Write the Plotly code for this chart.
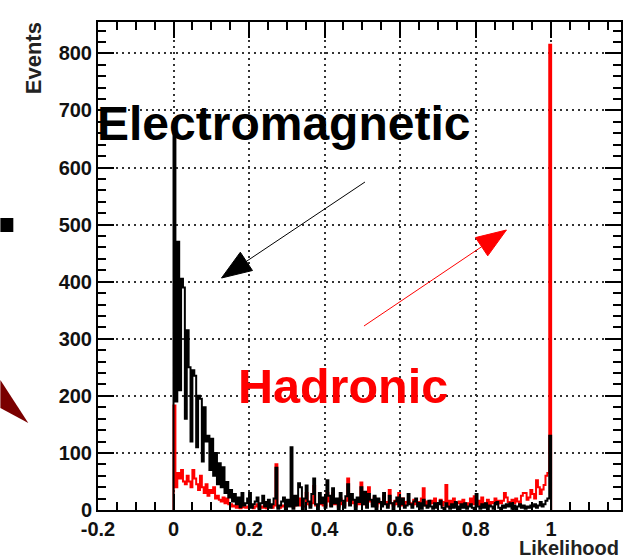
import plotly.graph_objects as go

# ---- histogram binning: 200 bins of width 0.005 over [0, 1] ----
BIN_WIDTH = 0.005
N_BINS = 200
bin_low = [round(i * BIN_WIDTH, 4) for i in range(N_BINS)]

# Events per likelihood bin, electromagnetic showers (black)
em_events = [
    660, 190, 470, 210, 405, 390, 160, 315, 250, 120, 245, 235, 110, 200, 195, 85, 180, 120, 130, 70,
    125, 60, 100, 45, 82, 40, 75, 30, 49, 22, 35, 15, 28, 10, 22, 5, 30, 8, 12, 20,
    30, 4, 10, 15, 22, 0, 12, 25, 6, 14, 18, 4, 10, 20, 74, 2, 8, 15, 22, 0,
    18, 6, 110, 2, 25, 8, 47, 40, 0, 20, 43, 15, 4, 28, 55, 10, 0, 30, 12, 22,
    4, 52, 25, 6, 38, 12, 20, 0, 30, 16, 4, 24, 45, 8, 28, 18, 0, 22, 14, 40,
    10, 32, 4, 28, 18, 6, 25, 0, 20, 14, 6, 30, 10, 4, 25, 12, 0, 15, 22, 6,
    10, 20, 4, 8, 28, 10, 4, 15, 20, 6, 12, 2, 18, 8, 4, 16, 6, 2, 12, 4,
    10, 16, 4, 0, 12, 6, 2, 10, 4, 14, 6, 0, 10, 4, 12, 2, 6, 10, 4, 0,
    28, 6, 2, 10, 4, 12, 0, 8, 6, 2, 10, 14, 4, 0, 8, 4, 10, 6, 12, 2,
    8, 0, 6, 10, 4, 8, 2, 6, 4, 8, 6, 10, 4, 8, 14, 6, 10, 16, 20, 130,
]

# Events per likelihood bin, hadronic showers (red)
had_events = [
    183, 40, 65, 55, 70, 50, 45, 60, 50, 40, 70, 55, 45, 35, 60, 40, 30, 45, 25, 35,
    30, 40, 20, 25, 18, 15, 22, 12, 20, 10, 10, 6, 8, 4, 8, 3, 12, 5, 4, 6,
    6, 8, 3, 6, 10, 4, 6, 4, 8, 3, 6, 8, 4, 8, 80, 5, 4, 8, 6, 4,
    8, 10, 12, 6, 8, 10, 20, 8, 6, 6, 30, 10, 8, 12, 42, 8, 6, 10, 16, 8,
    8, 30, 15, 8, 30, 10, 12, 6, 20, 10, 8, 16, 55, 10, 18, 12, 6, 15, 10, 48,
    10, 20, 8, 40, 15, 10, 22, 6, 18, 12, 10, 25, 14, 8, 35, 12, 8, 16, 10, 30,
    8, 20, 10, 14, 15, 12, 8, 18, 10, 14, 6, 20, 38, 8, 15, 10, 16, 12, 20, 8,
    12, 18, 8, 14, 44, 6, 16, 10, 20, 8, 12, 15, 6, 18, 10, 12, 8, 20, 10, 24,
    10, 16, 8, 22, 12, 10, 18, 8, 14, 12, 20, 10, 16, 12, 16, 30, 22, 14, 10, 18,
    12, 20, 15, 10, 25, 30, 30, 18, 22, 35, 28, 20, 52, 40, 28, 36, 44, 60, 65, 815,
]

# Axis ticks
x_ticks = [-0.2, 0.0, 0.2, 0.4, 0.6, 0.8, 1.0]
x_tick_text = ["-0.2", "0", "0.2", "0.4", "0.6", "0.8", "1"]
y_ticks = [0, 100, 200, 300, 400, 500, 600, 700, 800]
y_tick_text = ["0", "100", "200", "300", "400", "500", "600", "700", "800"]

X_RANGE = [-0.2, 1.185]
Y_RANGE = [0, 855]

# Page geometry (pixels)
W, H = 625, 558
L, R, T, B = 98, 2, 22, 48
PW, PH = W - L - R, H - T - B

FONT = "Liberation Sans, Arial, sans-serif"


def outline(counts):
    """Step outline of a histogram, closed down to zero at both ends."""
    edges = bin_low + [round(bin_low[-1] + BIN_WIDTH, 4)]
    xs = [edges[0]] + edges[:-1] + [edges[-1], edges[-1]]
    ys = [0] + list(counts) + [counts[-1], 0]
    return xs, ys


def paper(px, py):
    """Pixel position on the page -> paper coordinates."""
    return (px - L) / PW, (H - B - py) / PH


fig = go.Figure()

hx, hy = outline(had_events)
fig.add_trace(go.Scatter(x=hx, y=hy, mode="lines", line=dict(color="#ff0000", width=2, shape="hv"),
                         hoverinfo="skip", showlegend=False))
ex, ey = outline(em_events)
fig.add_trace(go.Scatter(x=ex, y=ey, mode="lines", line=dict(color="#000000", width=2, shape="hv"),
                         hoverinfo="skip", showlegend=False))

tick_font = dict(family=FONT, size=20, color="#111111", weight="bold")
grid_dash = "2px,4px"

fig.update_xaxes(
    range=X_RANGE, tickmode="array", tickvals=x_ticks, ticktext=x_tick_text,
    ticks="inside", ticklen=16, tickwidth=2, tickcolor="black",
    showline=True, linecolor="black", linewidth=2, mirror="ticks",
    showgrid=True, gridcolor="#333333", gridwidth=2, griddash=grid_dash,
    zeroline=False, tickfont=tick_font,
    minor=dict(tickmode="linear", tick0=0, dtick=0.05, ticks="inside", ticklen=8,
               tickwidth=2, tickcolor="black", showgrid=False),
)
fig.update_yaxes(
    range=Y_RANGE, tickmode="array", tickvals=y_ticks, ticktext=y_tick_text,
    ticks="inside", ticklen=16, tickwidth=2, tickcolor="black",
    showline=True, linecolor="black", linewidth=2, mirror="ticks",
    showgrid=True, gridcolor="#333333", gridwidth=2, griddash=grid_dash,
    zeroline=False, tickfont=tick_font,
    minor=dict(tickmode="linear", tick0=0, dtick=20, ticks="inside", ticklen=8,
               tickwidth=2, tickcolor="black", showgrid=False),
)

annotations = []

# Axis titles
ax_, ay_ = paper(33, 20)
annotations.append(dict(text="Events", xref="paper", yref="paper", x=ax_, y=ay_, textangle=-90,
                        xanchor="center", yanchor="top", showarrow=False,
                        font=dict(family=FONT, size=22, color="#222222", weight="bold")))
lx, ly = paper(623, 548)
annotations.append(dict(text="Likelihood", xref="paper", yref="paper", x=lx, y=ly,
                        xanchor="right", yanchor="middle", showarrow=False,
                        font=dict(family=FONT, size=20, color="#222222", weight="bold")))

# Labels for the two shower types
tx, ty = paper(95, 124)
annotations.append(dict(text="Electromagnetic", xref="paper", yref="paper", x=tx, y=ty,
                        xanchor="left", yanchor="middle", showarrow=False,
                        font=dict(family=FONT, size=48, color="#000000", weight="bold")))
tx, ty = paper(237, 386)
annotations.append(dict(text="Hadronic", xref="paper", yref="paper", x=tx, y=ty,
                        xanchor="left", yanchor="middle", showarrow=False,
                        font=dict(family=FONT, size=48.5, color="#ff0000", weight="bold")))

shapes = []


def arrow(tail, tip, color, head_len=30, head_half=11):
    (x0, y0), (x1, y1) = tail, tip
    dx, dy = x1 - x0, y1 - y0
    n = (dx * dx + dy * dy) ** 0.5
    ux, uy = dx / n, dy / n
    bx, by = x1 - head_len * ux, y1 - head_len * uy
    c1 = (bx - head_half * uy, by + head_half * ux)
    c2 = (bx + head_half * uy, by - head_half * ux)
    p0, pb = paper(x0, y0), paper(bx, by)
    shapes.append(dict(type="line", xref="paper", yref="paper", x0=p0[0], y0=p0[1], x1=pb[0], y1=pb[1],
                       line=dict(color=color, width=1)))
    pts = [paper(*tip), paper(*c1), paper(*c2)]
    path = "M {} {} L {} {} L {} {} Z".format(*[v for p in pts for v in p])
    shapes.append(dict(type="path", xref="paper", yref="paper", path=path,
                       fillcolor=color, line=dict(color=color, width=1)))


arrow((366, 182), (222, 278), "#000000")
arrow((365, 326), (508, 230), "#ff0000")

# Fragments of neighbouring slide graphics at the left edge
sq0, sq1 = paper(0, 218), paper(13, 232)
shapes.append(dict(type="rect", xref="paper", yref="paper", x0=sq0[0], y0=sq0[1], x1=sq1[0], y1=sq1[1],
                   fillcolor="#000000", line=dict(width=0)))
tri = [paper(0, 380), paper(28, 423), paper(0, 408)]
shapes.append(dict(type="path", xref="paper", yref="paper",
                   path="M {} {} L {} {} L {} {} Z".format(*[v for p in tri for v in p]),
                   fillcolor="#7a0000", line=dict(width=0)))

fig.update_layout(
    width=W, height=H,
    margin=dict(l=L, r=R, t=T, b=B, pad=0),
    paper_bgcolor="white", plot_bgcolor="white",
    annotations=annotations, shapes=shapes,
    showlegend=False,
)

fig.write_html("out.html")
